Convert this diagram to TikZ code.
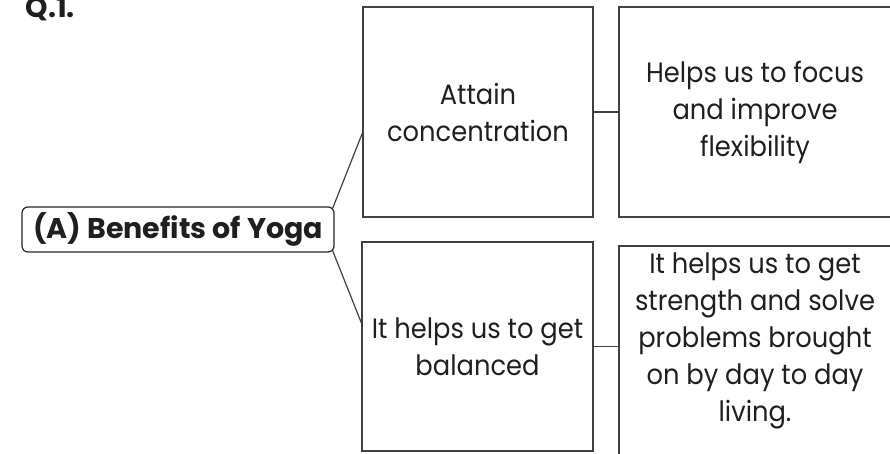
\documentclass[tikz,border=0pt]{standalone}
\usepackage{fontspec}
\setmainfont{Poppins}
\newfontfamily\boxfont[FakeStretch=0.92]{Poppins}
\usetikzlibrary{positioning,calc}

\begin{document}
\begin{tikzpicture}[x=1pt,y=-1pt,line width=1.2pt,
    every node/.style={text=black!88,font=\boxfont\fontsize{28}{37}\selectfont},
    box/.style={draw=black!75,rectangle,align=center,inner sep=0pt},
    rootbox/.style={draw=black!85,rounded corners=6pt,minimum width=312pt,minimum height=45pt,inner sep=0pt,font=\fontsize{28.5}{32}\selectfont\bfseries}]
    \useasboundingbox (0,0) rectangle (890,453);
    \node[anchor=base west,inner sep=0pt,font=\fontsize{28.5}{32}\selectfont\bfseries] (q) at (25,17) {Q.1.};
    \node[rootbox] (root) at (178,229.5) {(A) Benefits of Yoga};
    \node[box,minimum width=230pt,minimum height=210pt] (attain) at (478,112) {Attain\\concentration};
    \node[box,minimum width=272pt,minimum height=210pt] (focus) at (755,112) {Helps us to focus\\and improve\\flexibility};
    \node[box,minimum width=231pt,minimum height=209pt] (balanced) at (477.5,346.5) {It helps us to get\\balanced};
    \node[box,minimum width=272pt,minimum height=240pt] (strength) at (755,366) {};
    \node[align=center] (strengthtxt) at (755,341) {It helps us to get\\strength and solve\\problems brought\\on by day to day\\living.};
    \path[draw=black!75]
        ([xshift=-2pt,yshift=-2pt]root.north east) edge ([yshift=-21pt]attain.west)
        ([xshift=-2pt,yshift=2pt]root.south east) edge ([yshift=23.5pt]balanced.west)
        (attain) edge (focus)
        (balanced.east) edge (balanced.east -| strength.west)
        ;
\end{tikzpicture}
\end{document}
